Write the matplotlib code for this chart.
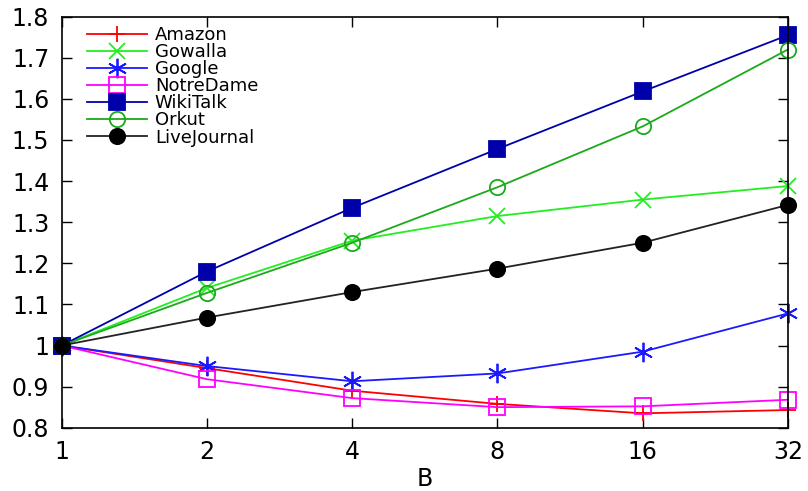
import matplotlib
matplotlib.use("Agg")
import matplotlib.pyplot as plt

# block sizes (evenly spaced on the x axis)
b_labels = ["1", "2", "4", "8", "16", "32"]

amazon = [1.0, 0.945, 0.890, 0.858, 0.835, 0.843]
gowalla = [1.0, 1.140, 1.255, 1.315, 1.355, 1.388]
google = [1.0, 0.950, 0.913, 0.932, 0.985, 1.078]
notredame = [1.0, 0.918, 0.872, 0.850, 0.852, 0.868]
wikitalk = [1.0, 1.180, 1.335, 1.478, 1.618, 1.755]
orkut = [1.0, 1.128, 1.250, 1.385, 1.533, 1.720]
livejournal = [1.0, 1.068, 1.130, 1.187, 1.250, 1.342]

y_ticks = [0.8, 0.9, 1.0, 1.1, 1.2, 1.3, 1.4, 1.5, 1.6, 1.7, 1.8]
y_labels = ["0.8", "0.9", "1", "1.1", "1.2", "1.3", "1.4", "1.5", "1.6", "1.7", "1.8"]

# name, values, colour, marker, filled, marker size
series = [
    ("Amazon", amazon, "#ff0000", "+", True, 12),
    ("Gowalla", gowalla, "#22ee22", "x", True, 11),
    ("Google", google, "#1a1aff", (6, 2, 0), True, 14),
    ("NotreDame", notredame, "#ff00ff", "s", False, 11),
    ("WikiTalk", wikitalk, "#0000aa", "s", True, 11),
    ("Orkut", orkut, "#1aaa1a", "o", False, 11),
    ("LiveJournal", livejournal, "#000000", "o", True, 11),
]

fig = plt.figure(figsize=(8.08, 4.91), dpi=100)
ax = fig.add_axes([0.0764, 0.1289, 0.8986, 0.8371])

x = list(range(len(b_labels)))
for name, vals, col, mk, filled, ms in series:
    line_col = "#222222" if name == "LiveJournal" else col
    ax.plot(x, vals, color=line_col, marker=mk, markersize=ms,
            markeredgewidth=1.3,
            markerfacecolor=col if filled else "none",
            markeredgecolor=col, linewidth=1.3, label=name, clip_on=False,
            zorder=3)

ax.set_xlim(0, 5)
ax.set_ylim(0.8, 1.8)
ax.set_xticks(x)
ax.set_xticklabels(b_labels)
ax.set_yticks(y_ticks)
ax.set_yticklabels(y_labels)
ax.tick_params(direction="in", top=True, right=True, labelsize=17, length=7,
               width=1, pad=9)
ax.set_xlabel("B", fontsize=17, labelpad=2)
for s in ax.spines.values():
    s.set_linewidth(1.2)
    s.set_zorder(4)

ax.legend(loc="upper left", frameon=False, fontsize=13, handlelength=3.3,
          labelspacing=-0.05, borderaxespad=0.0, handletextpad=0.45,
          bbox_to_anchor=(0.025, 0.995))

fig.savefig("out.png", dpi=100)
